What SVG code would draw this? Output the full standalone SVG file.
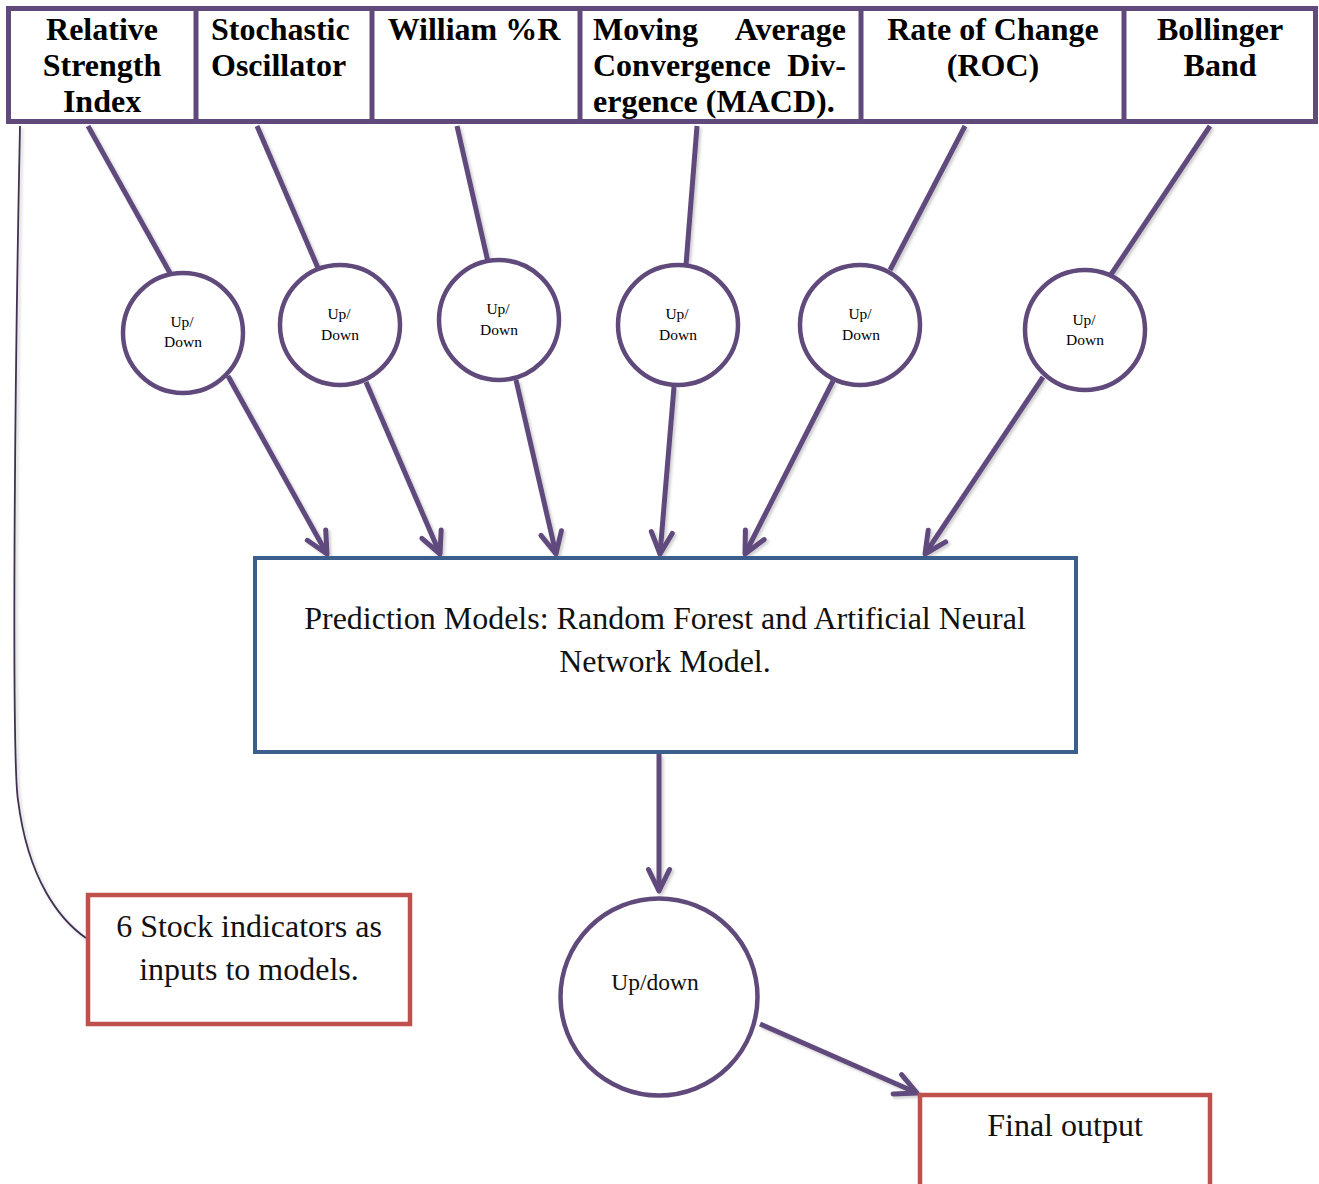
<svg xmlns="http://www.w3.org/2000/svg" width="1319" height="1184" viewBox="0 0 1319 1184">
<defs>
<style>
.hdr{font-family:"Liberation Serif","Times New Roman",serif;font-weight:bold;font-size:32px;fill:#000}
.ud{font-family:"Liberation Serif","Times New Roman",serif;font-size:15.5px;fill:#000;text-anchor:middle}
.txt{font-family:"Liberation Serif","Times New Roman",serif;font-size:32px;fill:#111;text-anchor:middle}
.box{fill:#fff;stroke:#604A7B;stroke-width:5}
.circ{fill:#fff;stroke:#604A7B;stroke-width:4.5}
.pred{fill:#fff;stroke:#3B5E8C;stroke-width:4}
.red{fill:#fff;stroke:#C0504D;stroke-width:4.5}
.conn{fill:none;stroke:#604A7B;stroke-width:5}
.arr{fill:none;stroke:#604A7B;stroke-width:5;marker-end:url(#chev)}
</style>
<marker id="chev" markerUnits="userSpaceOnUse" markerWidth="40" markerHeight="40" refX="0" refY="0" viewBox="-30 -20 40 40" orient="auto" overflow="visible">
<path d="M -21.5 -10.5 L 0 0 L -21.5 10.5" fill="none" stroke="#604A7B" stroke-width="5" stroke-linecap="round" stroke-linejoin="round"/>
</marker>
<filter id="sh" x="-20%" y="-20%" width="140%" height="140%">
<feDropShadow dx="2" dy="2" stdDeviation="1.5" flood-color="#000" flood-opacity="0.2"/>
</filter>
</defs>

<g id="connectors" filter="url(#sh)">
<path class="conn" d="M 88 126 L 170 273"/>
<path class="conn" d="M 257 126 L 318 268"/>
<path class="conn" d="M 457 126 L 488 262"/>
<path class="conn" d="M 697 126 L 686 265"/>
<path class="conn" d="M 965 126 L 890 270"/>
<path class="conn" d="M 1210 126 L 1110 276"/>
<path class="arr" d="M 228 376 L 327 554"/>
<path class="arr" d="M 366 382 L 440 554"/>
<path class="arr" d="M 516 380 L 556 554"/>
<path class="arr" d="M 674 387 L 660 554"/>
<path class="arr" d="M 833 381 L 745 554"/>
<path class="arr" d="M 1043 377 L 925 554"/>
<path class="arr" d="M 659 754 L 659 891"/>
<path class="arr" d="M 760 1024 L 917 1093"/>
<path d="M 20 126 C 14 420 12 760 18 800 C 28 880 60 920 86 938" fill="none" stroke="#3F3151" stroke-width="1.8"/>
</g>

<g id="indicators">
<rect class="box" x="8.5" y="8.5" width="1307" height="113"/>
<line x1="196" y1="8.5" x2="196" y2="121.5" stroke="#604A7B" stroke-width="5"/>
<line x1="372" y1="8.5" x2="372" y2="121.5" stroke="#604A7B" stroke-width="5"/>
<line x1="580" y1="8.5" x2="580" y2="121.5" stroke="#604A7B" stroke-width="5"/>
<line x1="861" y1="8.5" x2="861" y2="121.5" stroke="#604A7B" stroke-width="5"/>
<line x1="1124" y1="8.5" x2="1124" y2="121.5" stroke="#604A7B" stroke-width="5"/>
</g>
<g id="rsi">
<text class="hdr" text-anchor="middle" x="102" y="40">Relative</text>
<text class="hdr" text-anchor="middle" x="102" y="76">Strength</text>
<text class="hdr" text-anchor="middle" x="102" y="112">Index</text>
</g>
<g id="stochastic">
<text class="hdr" x="211" y="40">Stochastic</text>
<text class="hdr" x="211" y="76">Oscillator</text>
</g>
<g id="william">
<text class="hdr" text-anchor="middle" x="474" y="40">William %R</text>
</g>
<g id="macd">
<text class="hdr" x="593" y="40">Moving</text>
<text class="hdr" text-anchor="end" x="846" y="40">Average</text>
<text class="hdr" x="593" y="76">Convergence</text>
<text class="hdr" text-anchor="end" x="846" y="76">Div-</text>
<text class="hdr" x="593" y="112">ergence (MACD).</text>
</g>
<g id="roc">
<text class="hdr" text-anchor="middle" x="993" y="40">Rate of Change</text>
<text class="hdr" text-anchor="middle" x="993" y="76">(ROC)</text>
</g>
<g id="bollinger">
<text class="hdr" text-anchor="middle" x="1220" y="40">Bollinger</text>
<text class="hdr" text-anchor="middle" x="1220" y="76">Band</text>
</g>

<g id="ud1">
<circle class="circ" cx="183" cy="333" r="60"/>
<text class="ud" x="182" y="327">Up/</text>
<text class="ud" x="183" y="347">Down</text>
</g>
<g id="ud2">
<circle class="circ" cx="340" cy="325" r="60"/>
<text class="ud" x="339" y="319">Up/</text>
<text class="ud" x="340" y="340">Down</text>
</g>
<g id="ud3">
<circle class="circ" cx="499" cy="320" r="60"/>
<text class="ud" x="498" y="314">Up/</text>
<text class="ud" x="499" y="335">Down</text>
</g>
<g id="ud4">
<circle class="circ" cx="678" cy="325" r="60"/>
<text class="ud" x="677" y="319">Up/</text>
<text class="ud" x="678" y="340">Down</text>
</g>
<g id="ud5">
<circle class="circ" cx="860" cy="325" r="60"/>
<text class="ud" x="860" y="319">Up/</text>
<text class="ud" x="861" y="340">Down</text>
</g>
<g id="ud6">
<circle class="circ" cx="1085" cy="330" r="60"/>
<text class="ud" x="1084" y="325">Up/</text>
<text class="ud" x="1085" y="345">Down</text>
</g>

<g id="prediction">
<rect class="pred" x="255" y="558" width="821" height="194"/>
<text class="txt" x="665" y="629">Prediction Models: Random Forest and Artificial Neural</text>
<text class="txt" x="665" y="672">Network Model.</text>
</g>

<g id="output-circle">
<circle class="circ" cx="659" cy="997" r="98.5"/>
<text class="txt" x="655" y="990" style="font-size:23.5px">Up/down</text>
</g>

<g id="note">
<rect class="red" x="88" y="895" width="322" height="129"/>
<text class="txt" x="249" y="937">6 Stock indicators as</text>
<text class="txt" x="249" y="980">inputs to models.</text>
</g>

<g id="final">
<path class="red" d="M 920 1190 L 920 1095 L 1210 1095 L 1210 1190"/>
<text class="txt" x="1065" y="1136">Final output</text>
</g>
</svg>
